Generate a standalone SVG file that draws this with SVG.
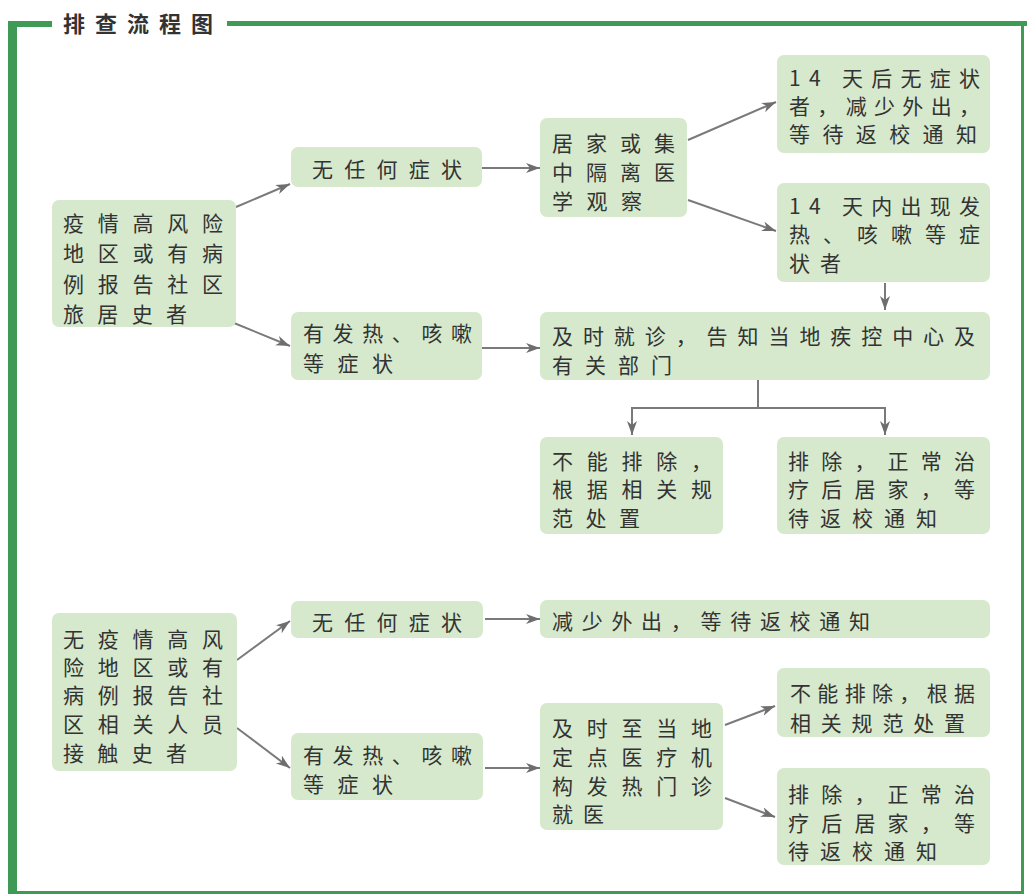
<svg xmlns="http://www.w3.org/2000/svg" width="1027" height="894" viewBox="0 0 1027 894">
<defs>
<style>
.box{fill:#d6e9cc;}
.t{font-family:"Noto Sans CJK SC","Noto Sans",sans-serif;font-size:21px;fill:#333333;dominant-baseline:central;}
.c{fill:none;stroke:#7a7a7a;stroke-width:2;}
.a{marker-end:url(#ah);}
.frame{fill:#3f9a56;}
</style>
<marker id="ah" markerUnits="userSpaceOnUse" markerWidth="16" markerHeight="12" refX="14" refY="5" orient="auto">
<path d="M0,0 L14,5 L0,10 L4,5 z" fill="#6e6e6e"/>
</marker>
</defs>
<rect width="1027" height="894" fill="#ffffff"/>
<g id="frame">
<rect class="frame" x="8" y="21" width="44" height="6"/>
<rect class="frame" x="227" y="21" width="800" height="5"/>
<rect class="frame" x="8" y="21" width="9" height="873"/>
<rect class="frame" x="1021" y="21" width="3" height="873"/>
<rect class="frame" x="8" y="891" width="1016" height="3"/>
<text x="63" y="22" class="t" style="font-weight:bold;font-size:22px" textLength="150" lengthAdjust="spacing">排查流程图</text>
</g>
<g id="connectors">
<line class="c a" x1="236" y1="207" x2="290" y2="184"/>
<line class="c a" x1="234" y1="323" x2="290" y2="346"/>
<line class="c a" x1="482" y1="168" x2="540" y2="168"/>
<line class="c a" x1="482" y1="348" x2="540" y2="348"/>
<line class="c a" x1="688" y1="140" x2="776" y2="102"/>
<line class="c a" x1="688" y1="200" x2="776" y2="231"/>
<line class="c a" x1="885" y1="283" x2="885" y2="310"/>
<polyline class="c" points="758,380 758,408"/>
<polyline class="c" points="632,408 885,408"/>
<line class="c a" x1="632" y1="407" x2="632" y2="435"/>
<line class="c a" x1="885" y1="407" x2="885" y2="435"/>
<line class="c a" x1="237" y1="660" x2="290" y2="621"/>
<line class="c a" x1="237" y1="728" x2="290" y2="768"/>
<line class="c a" x1="485" y1="619" x2="540" y2="619"/>
<line class="c a" x1="485" y1="768" x2="540" y2="768"/>
<line class="c a" x1="725" y1="725" x2="775" y2="706"/>
<line class="c a" x1="725" y1="798" x2="775" y2="817"/>
</g>
<g id="n1">
<rect class="box" x="52" y="200" width="184" height="127" rx="7"/>
<text class="t" x="63" y="222" textLength="160" lengthAdjust="spacing">疫情高风险</text>
<text class="t" x="63" y="252" textLength="160" lengthAdjust="spacing">地区或有病</text>
<text class="t" x="63" y="283" textLength="160" lengthAdjust="spacing">例报告社区</text>
<text class="t" x="63" y="313" textLength="124" lengthAdjust="spacing">旅居史者</text>
</g>
<g id="n2">
<rect class="box" x="291" y="147" width="191" height="40" rx="7"/>
<text class="t" x="312" y="168" textLength="150" lengthAdjust="spacing">无任何症状</text>
</g>
<g id="n3">
<rect class="box" x="291" y="312" width="191" height="68" rx="7"/>
<text class="t" x="303" y="332" textLength="169" lengthAdjust="spacing">有发热、咳嗽</text>
<text class="t" x="303" y="362" textLength="90" lengthAdjust="spacing">等症状</text>
</g>
<g id="n4">
<rect class="box" x="540" y="118" width="147" height="99" rx="7"/>
<text class="t" x="552" y="142" textLength="123" lengthAdjust="spacing">居家或集</text>
<text class="t" x="552" y="171" textLength="123" lengthAdjust="spacing">中隔离医</text>
<text class="t" x="552" y="200" textLength="90" lengthAdjust="spacing">学观察</text>
</g>
<g id="n5">
<rect class="box" x="777" y="55" width="213" height="98" rx="7"/>
<text class="t" x="789" y="77" textLength="191" lengthAdjust="spacing">14 天后无症状</text>
<text class="t" x="789" y="105" textLength="191" lengthAdjust="spacing">者，减少外出，</text>
<text class="t" x="789" y="133" textLength="188" lengthAdjust="spacing">等待返校通知</text>
</g>
<g id="n6">
<rect class="box" x="777" y="183" width="213" height="99" rx="7"/>
<text class="t" x="789" y="205" textLength="191" lengthAdjust="spacing">14 天内出现发</text>
<text class="t" x="789" y="233" textLength="191" lengthAdjust="spacing">热、咳嗽等症</text>
<text class="t" x="789" y="262" textLength="52" lengthAdjust="spacing">状者</text>
</g>
<g id="n7">
<rect class="box" x="540" y="312" width="450" height="68" rx="7"/>
<text class="t" x="552" y="335" textLength="423" lengthAdjust="spacing">及时就诊，告知当地疾控中心及</text>
<text class="t" x="552" y="364" textLength="120" lengthAdjust="spacing">有关部门</text>
</g>
<g id="n8">
<rect class="box" x="540" y="437" width="183" height="97" rx="7"/>
<text class="t" x="552" y="460" textLength="160" lengthAdjust="spacing">不能排除，</text>
<text class="t" x="552" y="488" textLength="160" lengthAdjust="spacing">根据相关规</text>
<text class="t" x="552" y="517" textLength="88" lengthAdjust="spacing">范处置</text>
</g>
<g id="n9">
<rect class="box" x="777" y="437" width="213" height="97" rx="7"/>
<text class="t" x="788" y="460" textLength="187" lengthAdjust="spacing">排除，正常治</text>
<text class="t" x="788" y="488" textLength="187" lengthAdjust="spacing">疗后居家，等</text>
<text class="t" x="788" y="517" textLength="149" lengthAdjust="spacing">待返校通知</text>
</g>
<g id="n10">
<rect class="box" x="52" y="613" width="185" height="158" rx="7"/>
<text class="t" x="63" y="638" textLength="160" lengthAdjust="spacing">无疫情高风</text>
<text class="t" x="63" y="666" textLength="160" lengthAdjust="spacing">险地区或有</text>
<text class="t" x="63" y="694" textLength="160" lengthAdjust="spacing">病例报告社</text>
<text class="t" x="63" y="723" textLength="160" lengthAdjust="spacing">区相关人员</text>
<text class="t" x="63" y="752" textLength="124" lengthAdjust="spacing">接触史者</text>
</g>
<g id="n11">
<rect class="box" x="291" y="601" width="192" height="37" rx="7"/>
<text class="t" x="312" y="621" textLength="150" lengthAdjust="spacing">无任何症状</text>
</g>
<g id="n12">
<rect class="box" x="291" y="733" width="192" height="67" rx="7"/>
<text class="t" x="303" y="754" textLength="169" lengthAdjust="spacing">有发热、咳嗽</text>
<text class="t" x="303" y="783" textLength="90" lengthAdjust="spacing">等症状</text>
</g>
<g id="n13">
<rect class="box" x="540" y="600" width="450" height="38" rx="7"/>
<text class="t" x="552" y="620" textLength="318" lengthAdjust="spacing">减少外出，等待返校通知</text>
</g>
<g id="n14">
<rect class="box" x="540" y="703" width="183" height="127" rx="7"/>
<text class="t" x="552" y="727" textLength="160" lengthAdjust="spacing">及时至当地</text>
<text class="t" x="552" y="756" textLength="160" lengthAdjust="spacing">定点医疗机</text>
<text class="t" x="552" y="785" textLength="160" lengthAdjust="spacing">构发热门诊</text>
<text class="t" x="552" y="813" textLength="52" lengthAdjust="spacing">就医</text>
</g>
<g id="n15">
<rect class="box" x="777" y="668" width="213" height="69" rx="7"/>
<text class="t" x="790" y="692" textLength="185" lengthAdjust="spacing">不能排除，根据</text>
<text class="t" x="790" y="722" textLength="175" lengthAdjust="spacing">相关规范处置</text>
</g>
<g id="n16">
<rect class="box" x="777" y="768" width="213" height="97" rx="7"/>
<text class="t" x="788" y="793" textLength="187" lengthAdjust="spacing">排除，正常治</text>
<text class="t" x="788" y="822" textLength="187" lengthAdjust="spacing">疗后居家，等</text>
<text class="t" x="788" y="850" textLength="149" lengthAdjust="spacing">待返校通知</text>
</g>
</svg>
